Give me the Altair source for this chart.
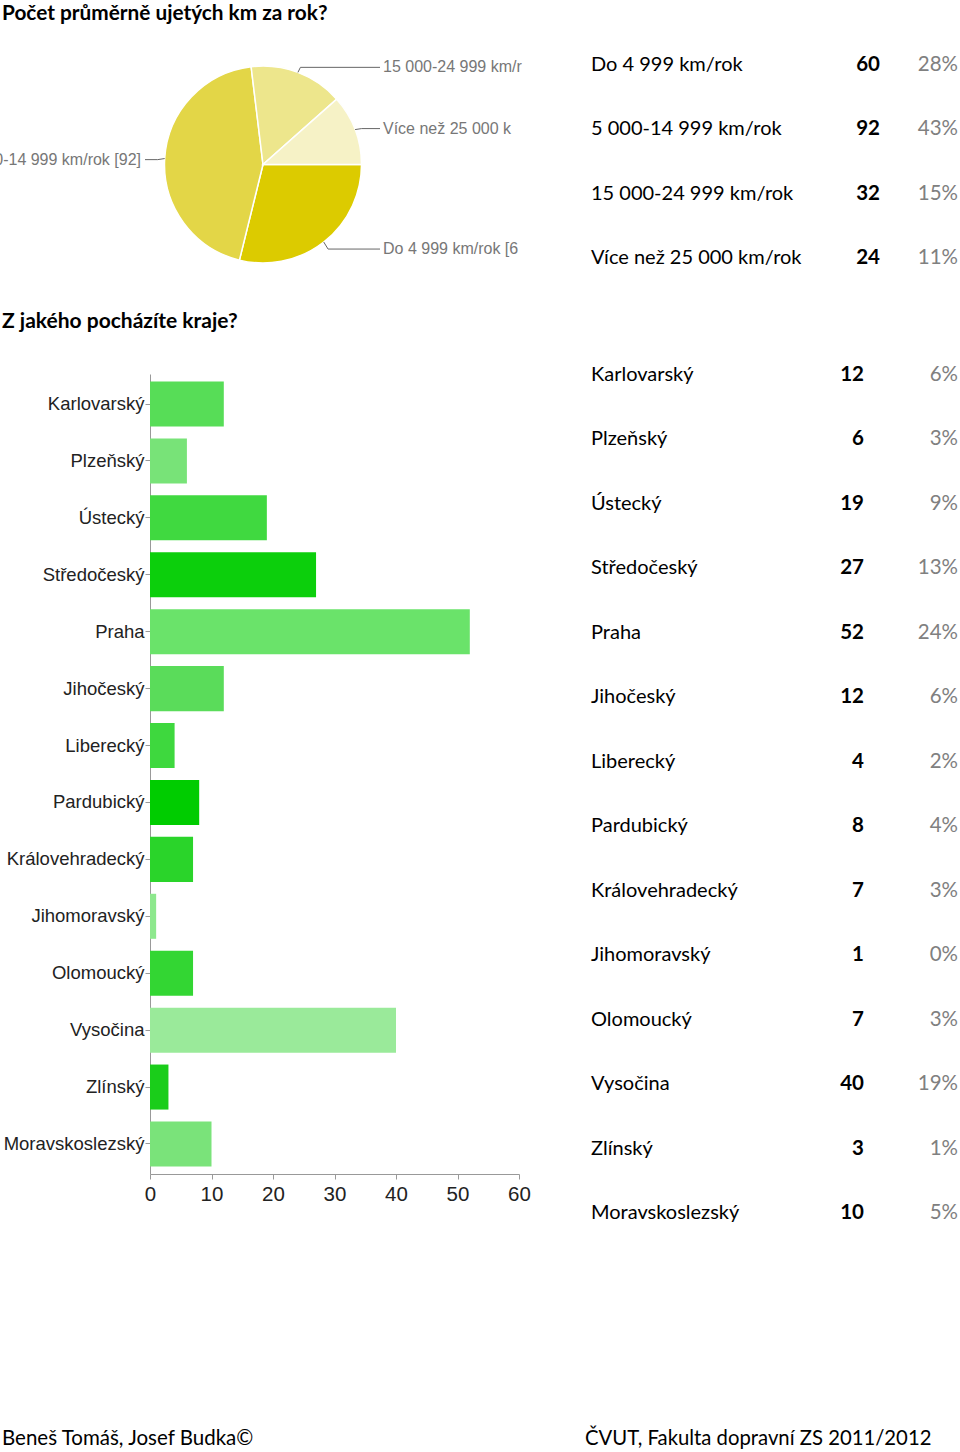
import math
import altair as alt
import pandas as pd

# ---------------- data ----------------
title1 = "Počet průměrně ujetých km za rok?"
title2 = "Z jakého pocházíte kraje?"
footer_left = "Beneš Tomáš, Josef Budka©"
footer_right = "ČVUT, Fakulta dopravní ZS 2011/2012"

km_labels = ["Do 4 999 km/rok", "5 000-14 999 km/rok", "15 000-24 999 km/rok", "Více než 25 000 km/rok"]
km_counts = [60, 92, 32, 24]
km_pcts = ["28%", "43%", "15%", "11%"]

kraje = ["Karlovarský", "Plzeňský", "Ústecký", "Středočeský", "Praha", "Jihočeský",
         "Liberecký", "Pardubický", "Královehradecký", "Jihomoravský", "Olomoucký",
         "Vysočina", "Zlínský", "Moravskoslezský"]
kraje_counts = [12, 6, 19, 27, 52, 12, 4, 8, 7, 1, 7, 40, 3, 10]
kraje_pcts = ["6%", "3%", "9%", "13%", "24%", "6%", "2%", "4%", "3%", "0%", "3%", "19%", "1%", "5%"]

x_ticks = [0, 10, 20, 30, 40, 50, 60]

# ---------------- styles / layout ----------------
km_colors = ["#dccb00", "#e3d647", "#ede68c", "#f6f2c6"]
kraje_colors = ["#57dd57", "#78e378", "#40d940", "#0ccf0c", "#6ae36a", "#5adc5a",
                "#3ed83e", "#00cc00", "#2ad42a", "#8de88d", "#33d633",
                "#9aea9a", "#1acd1a", "#7ae37a"]

W, H = 960, 1452
CX, CY, R = 263, 164.5, 98.5
DOC_FONT = "Lato"
CHART_FONT = "Liberation Sans"

px_x = alt.Scale(domain=[0, W], range=[0, W], nice=False, zero=False)
px_y = alt.Scale(domain=[0, H], range=[0, H], nice=False, zero=False)

# ---------------- pie ----------------
df_km = pd.DataFrame({"label": km_labels, "count": km_counts, "pct": km_pcts,
                      "idx": list(range(len(km_labels)))})
total = sum(km_counts)
cum = 0
mids = []
for c in km_counts:
    mids.append(math.pi / 2 + 2 * math.pi * (cum + c / 2) / total)
    cum += c
df_km["px"] = [CX + R * math.sin(a) for a in mids]
df_km["py"] = [CY - R * math.cos(a) for a in mids]
df_km["qx"] = [CX + (R + 7) * math.sin(a) for a in mids]
df_km["qy"] = [CY - (R + 7) * math.cos(a) + 1.5 for a in mids]
df_km["side"] = ["right" if math.sin(a) > 0 else "left" for a in mids]
df_km["xend"] = [380 if s == "right" else 145 for s in df_km["side"]]
df_km["tx"] = [383 if s == "right" else 141 for s in df_km["side"]]
df_km["lab"] = [f"{l} [{c}]" for l, c in zip(km_labels, km_counts)]

pie = alt.Chart(df_km).mark_arc(radius=R, stroke="white", strokeWidth=1.5).encode(
    x=alt.value(CX), y=alt.value(CY),
    theta=alt.Theta("count:Q", stack=True,
                    scale=alt.Scale(range=[math.pi / 2, math.pi / 2 + 2 * math.pi])),
    color=alt.Color("label:N", scale=alt.Scale(domain=km_labels, range=km_colors), legend=None),
    order=alt.Order("idx:Q"),
)

stub = alt.Chart(df_km).mark_rule(color="#666", strokeWidth=1).encode(
    x=alt.X("px:Q", scale=px_x, axis=None), x2="qx:Q",
    y=alt.Y("py:Q", scale=px_y, axis=None), y2="qy:Q")
hline = alt.Chart(df_km).mark_rule(color="#666", strokeWidth=1).encode(
    x=alt.X("qx:Q", scale=px_x, axis=None), x2="xend:Q",
    y=alt.Y("qy:Q", scale=px_y, axis=None))

lab_right = alt.Chart(df_km).transform_filter("datum.side == 'right'").mark_text(
    align="left", baseline="middle", font=CHART_FONT, fontSize=16, color="#777",
    limit=141, ellipsis="\u200b").encode(
    x=alt.X("tx:Q", scale=px_x, axis=None), y=alt.Y("qy:Q", scale=px_y, axis=None),
    text="lab:N")
lab_left = alt.Chart(df_km).transform_filter("datum.side == 'left'").mark_text(
    align="right", baseline="middle", font=CHART_FONT, fontSize=16, color="#777").encode(
    x=alt.X("tx:Q", scale=px_x, axis=None), y=alt.Y("qy:Q", scale=px_y, axis=None),
    text="lab:N")

# ---------------- tables ----------------
def table(df, key, domain, yr, xnum):
    ysc = alt.Scale(type="point", domain=domain, range=yr, padding=0)
    base = alt.Chart(df)
    a = base.mark_text(align="left", baseline="middle", font=DOC_FONT, fontSize=20, color="#000").encode(
        x=alt.value(591), y=alt.Y(f"{key}:N", scale=ysc, axis=None), text=f"{key}:N")
    b = base.mark_text(align="right", baseline="middle", font=DOC_FONT, fontSize=20.5,
                       fontWeight="bold", color="#000").encode(
        x=alt.value(xnum), y=alt.Y(f"{key}:N", scale=ysc, axis=None), text="count:Q")
    c = base.mark_text(align="right", baseline="middle", font=DOC_FONT, fontSize=20.5, color="#808080").encode(
        x=alt.value(958), y=alt.Y(f"{key}:N", scale=ysc, axis=None), text="pct:N")
    return [a, b, c]

t1 = table(df_km, "label", km_labels, [65, 258], 880)

# ---------------- bar chart ----------------
df_kr = pd.DataFrame({"kraj": kraje, "count": kraje_counts, "pct": kraje_pcts})
bars = alt.Chart(df_kr).mark_bar().encode(
    x=alt.X("count:Q",
            scale=alt.Scale(domain=[0, 60], range=[150, 519], nice=False),
            axis=alt.Axis(orient="bottom", offset=-(H - 1174), values=x_ticks, title=None, grid=False,
                          domainColor="#999", tickColor="#999", tickSize=5, labelPadding=5,
                          labelFont=CHART_FONT, labelFontSize=20.5, labelColor="#222",
                          labelFlush=False)),
    y=alt.Y("kraj:N", sort=kraje,
            scale=alt.Scale(domain=kraje, range=[374, 1174], paddingInner=0.209, paddingOuter=0.132),
            axis=alt.Axis(orient="left", offset=-150, title=None, grid=False,
                          domainColor="#999", tickColor="#999", tickSize=5, labelPadding=1,
                          labelFont=CHART_FONT, labelFontSize=18.5, labelColor="#222", labelLimit=300)),
    color=alt.Color("kraj:N", scale=alt.Scale(domain=kraje, range=kraje_colors), legend=None),
)

t2 = table(df_kr, "kraj", kraje, [375, 1213], 864)

# ---------------- free texts ----------------
def free_text(txt, x, y, bold=False, size=21):
    return alt.Chart(pd.DataFrame({"t": [txt]})).mark_text(
        align="left", baseline="middle", font=DOC_FONT, fontSize=size,
        fontWeight="bold" if bold else "normal", color="#000").encode(
        x=alt.value(x), y=alt.value(y), text="t:N")

texts = [free_text(title1, 2, 14, True, 20.8), free_text(title2, 2, 322, True),
         free_text(footer_left, 2, 1439, size=20.5), free_text(footer_right, 585, 1439, size=20.3)]

chart = alt.layer(bars, pie, stub, hline, lab_right, lab_left, *t1, *t2, *texts).resolve_scale(
    x="independent", y="independent", color="independent", theta="independent"
).properties(
    width=W, height=H, padding=0,
    autosize=alt.AutoSizeParams(type="none"),
).configure_view(stroke=None)

chart.save("out.html", embed_options={"renderer": "svg", "actions": False})
